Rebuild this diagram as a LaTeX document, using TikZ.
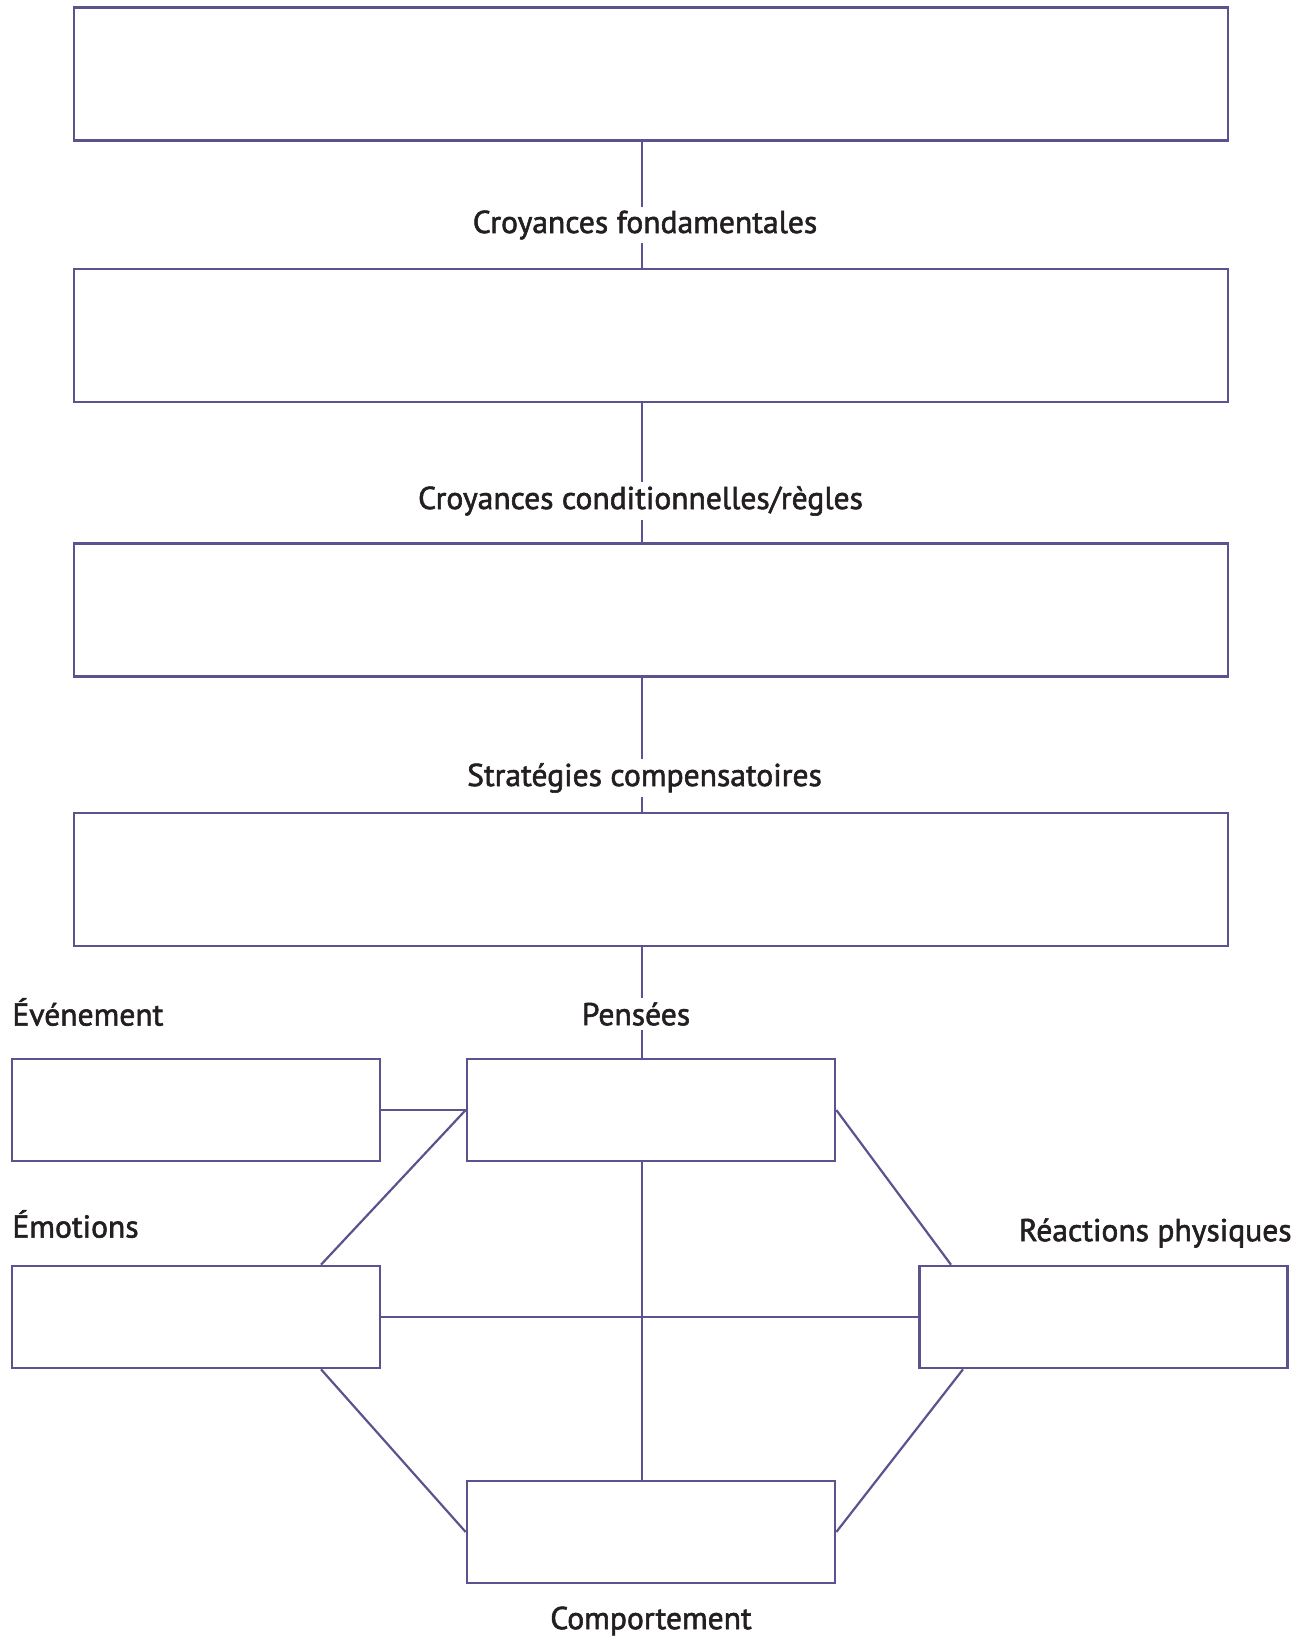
\documentclass[tikz,border=0pt]{standalone}
\usepackage{fontspec}
\setmainfont{PT Sans}
\newfontfamily\titrefont{PT Sans}[FakeBold=1.8]
\usetikzlibrary{calc}
\definecolor{cadre}{RGB}{92,82,142}
\definecolor{encre}{RGB}{35,31,32}

\begin{document}
\begin{tikzpicture}[x=0.5pt,y=-0.5pt]
            \tikzset{grand/.style={draw=cadre,line width=1.3pt,rectangle,minimum width=577pt,minimum height=66.5pt,inner sep=0pt}};
            \tikzset{petit/.style={draw=cadre,line width=1.3pt,rectangle,minimum width=184pt,minimum height=51pt,inner sep=0pt}};
            \tikzset{titre/.style={fill=white,text=encre,inner sep=2pt,font=\titrefont\fontsize{15.8}{18}\selectfont}};
            \tikzset{trait/.style={draw=cadre,line width=1.1pt}};
            \useasboundingbox (0,0) rectangle (1306,1637);

            \node[grand] (fond) at (651,74){};
            \node[grand] (cond) at (651,335.5){};
            \node[grand] (strat) at (651,610){};
            \node[grand] (auto) at (651,879.5){};

            \node[petit] (even) at (196,1110){};
            \node[petit] (pens) at (651,1110){};
            \node[petit] (emo) at (196,1317){};
            \node[petit] (reac) at (1103.5,1317){};
            \node[petit] (comp) at (651,1532){};

            \draw[trait] ([xshift=-4.5pt]fond.south) -- ([xshift=-4.5pt]cond.north);
            \draw[trait] ([xshift=-4.5pt]cond.south) -- ([xshift=-4.5pt]strat.north);
            \draw[trait] ([xshift=-4.5pt]strat.south) -- ([xshift=-4.5pt]auto.north);
            \draw[trait] ([xshift=-4.5pt]auto.south) -- ([xshift=-4.5pt]pens.north);

            \node[titre] (lfond) at (645,225){Croyances fondamentales};
            \node[titre] (lcond) at (640.5,501){Croyances conditionnelles/règles};
            \node[titre] (lstrat) at (644.5,778){Stratégies compensatoires};
            \node[titre] (lpens) at (636,1014){Pensées};
            \node[titre,anchor=west] (leven) at (8,1012){Événement};
            \node[titre,anchor=west] (lemo) at (8,1224){Émotions};
            \node[titre,anchor=east] (lreac) at (1296,1233){Réactions physiques};
            \node[titre] (lcomp) at (651,1621){Comportement};

            \draw[trait] (even.east) -- (pens.west);
            \draw[trait] (pens.west) -- ([xshift=62.5pt]emo.north);
            \draw[trait] (pens.east) -- ([xshift=-76.25pt]reac.north);
            \draw[trait] ([xshift=-4.5pt]pens.south) -- ([xshift=-4.5pt]comp.north);
            \draw[trait] (emo.east) -- (reac.west);
            \draw[trait] ([xshift=62.5pt]emo.south) -- (comp.west);
            \draw[trait] ([xshift=-70.25pt]reac.south) -- (comp.east);
\end{tikzpicture}
\end{document}
